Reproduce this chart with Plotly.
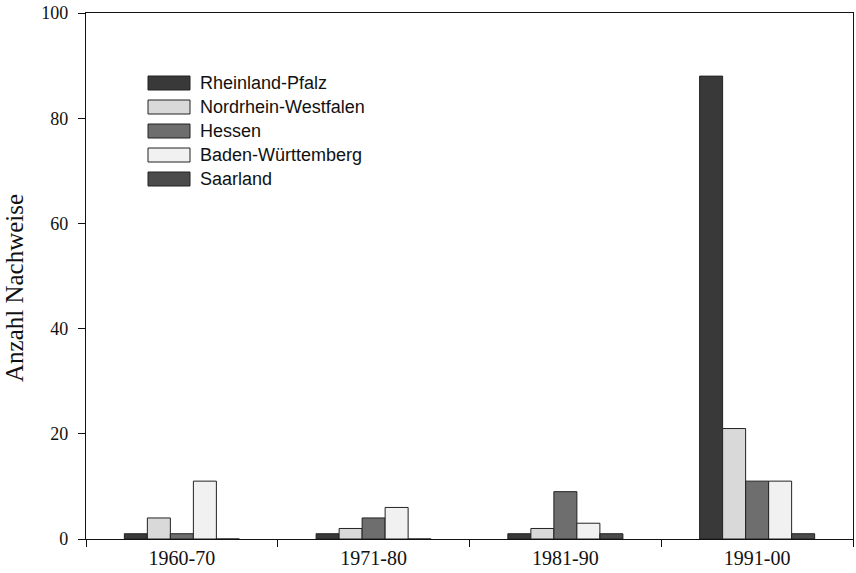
import plotly.graph_objects as go

# Nachweise je Bundesland und Jahrzehnt
periods = ["1960-70", "1971-80", "1981-90", "1991-00"]
states = ["Rheinland-Pfalz", "Nordrhein-Westfalen", "Hessen", "Baden-Württemberg", "Saarland"]
rheinland_pfalz = [1, 1, 1, 88]
nordrhein_westfalen = [4, 2, 2, 21]
hessen = [1, 4, 9, 11]
baden_wuerttemberg = [11, 6, 3, 11]
saarland = [0, 0, 1, 1]
y_ticks = [0, 20, 40, 60, 80, 100]

series = [rheinland_pfalz, nordrhein_westfalen, hessen, baden_wuerttemberg, saarland]
colors = ["#393939", "#d9d9d9", "#6e6e6e", "#f1f1f1", "#4b4b4b"]

fig = go.Figure()
for name, vals, col in zip(states, series, colors):
    fig.add_trace(go.Bar(
        x=periods, y=vals, name=name,
        marker=dict(color=col, line=dict(color="#222222", width=1)),
        showlegend=False,
    ))

# Legend drawn as rectangles with labels
lx0, lx1 = 148, 190
row0, dy = 83, 24
W, H = 856, 573
for i, (name, col) in enumerate(zip(states, colors)):
    yc = row0 + i * dy
    fig.add_shape(type="rect", xref="paper", yref="paper",
                  x0=(lx0 - 86) / 767, x1=(lx1 - 86) / 767,
                  y0=(539 - (yc + 7)) / 526, y1=(539 - (yc - 7)) / 526,
                  fillcolor=col, line=dict(color="#222222", width=1))
    fig.add_annotation(xref="paper", yref="paper",
                       x=(198 - 86) / 767, y=(539 - yc) / 526,
                       text=name, showarrow=False, xanchor="left", yanchor="middle",
                       font=dict(family="Liberation Sans, Arial", size=18, color="#111111"))

# Y axis title, set slightly below the plot's vertical centre
fig.add_annotation(xref="paper", yref="paper",
                   x=(14 - 86) / 767, y=(539 - 288) / 526,
                   text="Anzahl Nachweise", textangle=-90, showarrow=False,
                   xanchor="center", yanchor="middle",
                   font=dict(family="Liberation Serif, Times New Roman", size=25, color="#111111"))

fig.update_layout(
    width=W, height=H,
    margin=dict(l=86, r=3, t=13, b=34),
    paper_bgcolor="white", plot_bgcolor="white",
    barmode="group", bargap=0.4, bargroupgap=0,
    font=dict(family="Liberation Serif, Times New Roman", size=18, color="#111111"),
)
fig.update_xaxes(
    type="category", tickson="boundaries", ticks="outside", ticklen=7,
    tickcolor="#111111", showline=True, linecolor="#111111", linewidth=1.3,
    mirror=True, showgrid=False, tickfont=dict(size=20), ticklabelstandoff=1,
)
fig.update_yaxes(
    range=[0, 100], tickvals=y_ticks, ticks="outside", ticklen=7,
    tickcolor="#111111", showline=True, linecolor="#111111", linewidth=1.3,
    mirror=True, showgrid=False, zeroline=False, tickfont=dict(size=18),
    ticklabelstandoff=6,
)

fig.write_html("out.html")
